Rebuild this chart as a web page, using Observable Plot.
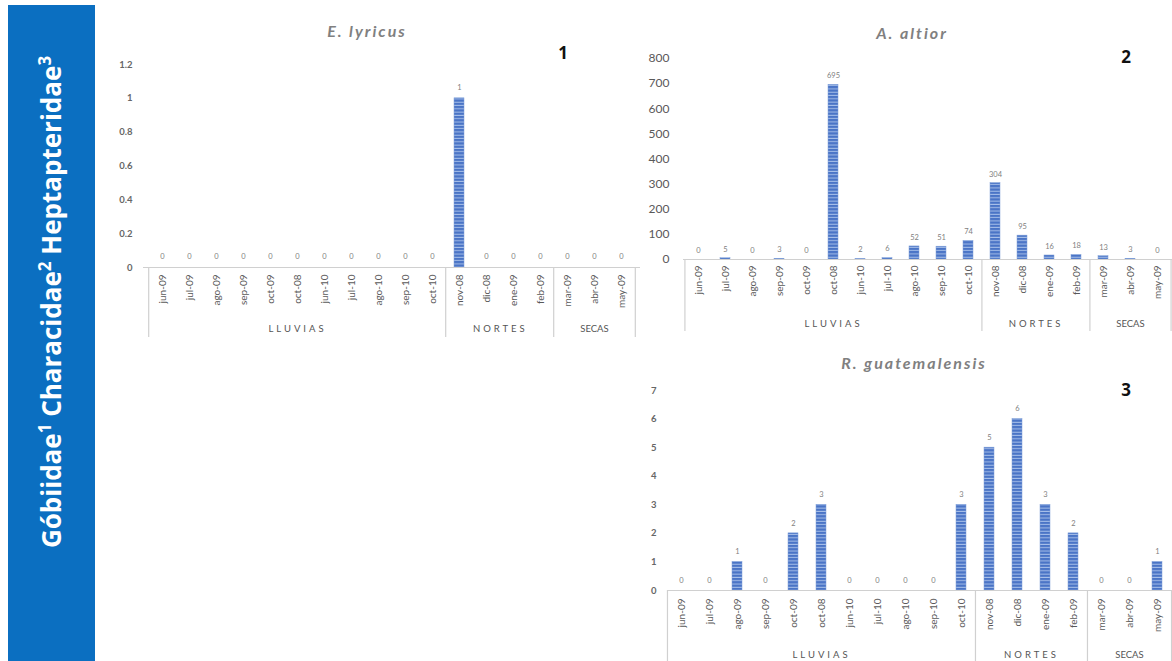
<!DOCTYPE html>
<html><head><meta charset="utf-8">
<script src="https://cdn.jsdelivr.net/npm/d3@7"></script>
<script src="https://cdn.jsdelivr.net/npm/@observablehq/plot@0.6"></script>
<style>
html,body{margin:0;padding:0;background:#fff}
body{width:1172px;height:661px;overflow:hidden;position:relative;font-family:Lato,"Open Sans",sans-serif}
.abs{position:absolute}
#side{left:8px;top:5px;width:87px;height:656px;background:#0b6fc1}
#sidetext{left:51px;top:302px;transform:translate(-50%,-50%) rotate(-90deg);white-space:nowrap;color:#fff;font-family:"Open Sans",sans-serif;font-weight:bold;font-size:26px}
#sidetext sup{font-size:17px;line-height:0}
.title{font-style:italic;font-weight:bold;color:#808080;letter-spacing:2px;font-size:16px;transform:translate(-50%,-50%);white-space:nowrap}
.num{font-weight:bold;font-size:17px;color:#111;transform:translate(-50%,-50%);font-family:"Open Sans",sans-serif}
svg.plot{position:absolute;overflow:visible}
</style></head>
<body>
<svg width="0" height="0" style="position:absolute">
  <defs>
    <pattern id="stripes" patternUnits="userSpaceOnUse" width="6" height="3.3">
      <rect x="0" y="0" width="6" height="3.3" fill="#4a74c6"></rect>
      <rect x="0" y="2.3" width="6" height="1" fill="#a7bfe9"></rect>
    </pattern>
  </defs>
</svg>
<div id="side" class="abs"></div>
<div id="sidetext" class="abs">Góbiidae<sup>1</sup> Characidae<sup>2</sup> Heptapteridae<sup>3</sup></div>
<div id="t1" class="abs title" style="left:367px;top:30px">E. lyricus</div>
<div id="t2" class="abs title" style="left:912px;top:32px">A. altior</div>
<div id="t3" class="abs title" style="left:914px;top:362px">R. guatemalensis</div>
<div class="abs num" style="left:563px;top:52px">1</div>
<div class="abs num" style="left:1126px;top:56px">2</div>
<div class="abs num" style="left:1126px;top:389px">3</div>
<script>
const months = ["jun-09","jul-09","ago-09","sep-09","oct-09","oct-08","jun-10","jul-10","ago-10","sep-10","oct-10","nov-08","dic-08","ene-09","feb-09","mar-09","abr-09","may-09"];
const seasons = ["LLUVIAS","NORTES","SECAS"];
const seasonCounts = [11,4,3];
const lyricus = [0,0,0,0,0,0,0,0,0,0,0,1,0,0,0,0,0,0];
const altior = [0,5,0,3,0,695,2,6,52,51,74,304,95,16,18,13,3,0];
const guatemalensis = [0,0,1,0,2,3,0,0,0,0,3,5,6,3,2,0,0,1];
const ticks1 = [0,0.2,0.4,0.6,0.8,1,1.2];
const ticks2 = [0,100,200,300,400,500,600,700,800];
const ticks3 = [0,1,2,3,4,5,6,7];

function panel(cfg){
  const data = months.map((m,i)=>({m, v: cfg.values[i]}));
  const step = (cfg.width - cfg.marginLeft) / months.length;
  let s = 0;
  const starts = [], groupMarks = [];
  seasons.forEach((g,k)=>{
    const c = seasonCounts[k];
    starts.push(months[s]);
    const mid = s + (c-1)/2;
    const even = mid !== Math.floor(mid);
    groupMarks.push(Plot.text([{m: months[Math.floor(mid)], g}], {
      x:"m", y: () => 0, text:"g", dx: even ? step/2 : 0, dy: cfg.groupDy,
      fontSize: 9.5, fill:"#555"
    }));
    s += c;
  });
  const plot = Plot.plot({
    width: cfg.width, height: cfg.height,
    marginLeft: cfg.marginLeft, marginRight: 0, marginTop: cfg.marginTop, marginBottom: cfg.marginBottom,
    style: {background:"transparent", fontFamily:"Lato, sans-serif", overflow:"visible"},
    x: {domain: months, paddingInner: 0.64, paddingOuter: 0.32, axis: null},
    y: {domain: [0, cfg.yMax], nice: false, axis: null},
    marks: [
      Plot.axisY(cfg.ticks, {label: null, tickSize:0, tickPadding: cfg.tickPadding, fontSize: cfg.yFont, fill: cfg.yColor, fontWeight: cfg.yWeight, tickFormat: d => String(d)}),
      Plot.axisX({label: null, tickSize:0, tickRotate:-90, tickPadding: cfg.catPad, fontSize: 10, fill:"#595959"}),
      Plot.barY(data, {x:"m", y:"v", fill:"url(#stripes)", stroke:"#7f9fd8", strokeWidth:0.5}),
      Plot.ruleY([0], {stroke:"#d0d0d0", strokeWidth:1.2}),
      Plot.ruleX(starts, {x: d=>d, dx: -step/2, y1: 0, y2: 0, insetBottom: -cfg.sepLen, stroke:"#d0d0d0", strokeWidth:1.2}),
      Plot.ruleX([months[months.length-1]], {x: d=>d, dx: step/2, y1: 0, y2: 0, insetBottom: -cfg.sepLen, stroke:"#d0d0d0", strokeWidth:1.2}),
      Plot.text(data, {x:"m", y:"v", text: d => String(d.v), dy: cfg.labelDy, fontSize: 7.5, fill:"#808080"}),
      ...groupMarks
    ]
  });
  plot.classList.add("plot");
  plot.style.left = cfg.left + "px";
  plot.style.top = cfg.top + "px";
  d3.select(plot).selectAll("text").each(function(){
    const t = this.textContent;
    if (t === "LLUVIAS" || t === "NORTES") this.setAttribute("letter-spacing", "3");
  });
  document.body.appendChild(plot);
}

panel({values: lyricus, ticks: ticks1, yMax: 1.2, left:100, top:40, width:540, height:300,
  marginLeft:43, marginTop:24, marginBottom:73, tickPadding:11, yFont:9.5, yColor:"#666", yWeight:"bold",
  labelDy:-11, catPad:7, groupDy:61, sepLen:70});
panel({values: altior, ticks: ticks2, yMax: 800, left:640, top:30, width:532, height:310,
  marginLeft:43, marginTop:28, marginBottom:81, tickPadding:14, yFont:12, yColor:"#595959", yWeight:"normal",
  labelDy:-9, catPad:6, groupDy:64, sepLen:72});
panel({values: guatemalensis, ticks: ticks3, yMax: 7, left:620, top:370, width:552, height:291,
  marginLeft:47, marginTop:20, marginBottom:71, tickPadding:11, yFont:9.5, yColor:"#666", yWeight:"bold",
  labelDy:-10, catPad:8, groupDy:64, sepLen:71});
</script>
</body></html>
